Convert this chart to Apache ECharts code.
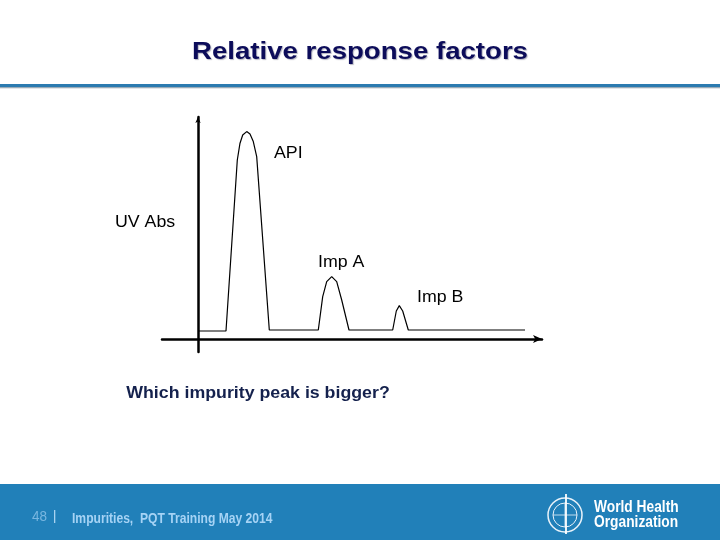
<!DOCTYPE html>
<html><head><meta charset="utf-8">
<script src="https://cdn.jsdelivr.net/npm/echarts@6/dist/echarts.min.js"></script>
<style>html,body{margin:0;padding:0;background:#fff}#c{width:720px;height:540px}</style>
</head><body><div id="c"></div>
<script>
// chromatogram trace: retention time (x) and UV absorbance (y)
var traceTime = [0, 2.8, 3.93, 4.2, 4.47, 4.87, 5.2, 5.53, 5.87, 7.13, 12.03, 12.47, 12.87, 13.37, 13.87, 14.37, 15.1, 19.47, 19.83, 20.13, 20.47, 21.03, 32.7];
var traceAbs  = [4, 4, 89.5, 97.9, 102, 103.7, 102.5, 98.7, 91.2, 4.5, 4.5, 21.2, 28.7, 31.2, 28.7, 19.5, 4.5, 4.5, 14, 16.7, 14, 4.5, 4.5];
var peakNames = ['API', 'Imp A', 'Imp B'];
var yAxisName = 'UV Abs';
var titleText = 'Relative response factors';
var questionText = 'Which impurity peak is bigger?';
var footerPage = '48';
var footerText = 'Impurities,  PQT Training May 2014';
var orgLines = ['World Health', 'Organization'];

var data = traceTime.map(function (t, i) { return [t, traceAbs[i]]; });
var chart = echarts.init(document.getElementById('c'), null, {renderer: 'canvas'});
var navy = '#0c0c5a';
var F = '"Liberation Sans", Arial, sans-serif';
function lbl(text, x, y) {
  return {type: 'text', x: x, y: y, scaleX: 1.11, style: {text: text, font: '16px ' + F, fill: '#000', textVerticalAlign: 'middle'}};
}
chart.setOption({
  animation: false,
  backgroundColor: '#fff',
  grid: {left: 162, right: 178, top: 117, bottom: 188, containLabel: false},
  xAxis: {
    type: 'value', min: -3.6, max: 34.4,
    axisLine: {onZero: true, symbol: ['none', 'arrow'], symbolSize: [6, 9], lineStyle: {color: '#000', width: 2.5}},
    axisTick: {show: false}, axisLabel: {show: false}, splitLine: {show: false}
  },
  yAxis: {
    type: 'value', min: -6.5, max: 111,
    axisLine: {show: true, onZero: true, symbol: ['none', 'arrow'], symbolSize: [4, 6], lineStyle: {color: '#000', width: 2.5}},
    axisTick: {show: false}, axisLabel: {show: false}, splitLine: {show: false}
  },
  series: [{
    type: 'line', data: data, showSymbol: false, smooth: false,
    lineStyle: {color: '#000', width: 1.2}
  }],
  graphic: [
    {type: 'text', x: 360, y: 52, scaleX: 1.15, style: {text: titleText, font: 'bold 24px ' + F, fill: navy, textAlign: 'center', textVerticalAlign: 'middle', textShadowColor: 'rgba(120,120,140,0.55)', textShadowOffsetX: 1, textShadowOffsetY: 1, textShadowBlur: 1}},
    {type: 'rect', shape: {x: 0, y: 84, width: 720, height: 3.3}, style: {fill: '#2b7bb0'}},
    {type: 'rect', shape: {x: 0, y: 87.3, width: 720, height: 1}, style: {fill: '#8a9aa6'}},
    lbl(peakNames[0], 274, 153.5),
    lbl(yAxisName, 115, 222.5),
    lbl(peakNames[1], 318, 262.5),
    lbl(peakNames[2], 417, 297.5),
    {type: 'text', x: 258, y: 393.5, scaleX: 1.11, style: {text: questionText, font: 'bold 16px ' + F, fill: '#14214d', textAlign: 'center', textVerticalAlign: 'middle'}},
    {type: 'rect', shape: {x: 0, y: 484, width: 720, height: 56}, style: {fill: '#2180b9'}},
    {type: 'text', x: 32, y: 517, scaleX: 0.9, style: {text: footerPage, font: '15px ' + F, fill: '#79b6e0', textVerticalAlign: 'middle'}},
    {type: 'rect', shape: {x: 54, y: 510, width: 1.3, height: 13}, style: {fill: '#a8d2f0'}},
    {type: 'text', x: 72, y: 519, scaleX: 0.865, style: {text: footerText, font: 'bold 14px ' + F, fill: '#a6d3f5', textVerticalAlign: 'middle'}},
    // WHO emblem approximation
    {type: 'circle', shape: {cx: 565, cy: 515, r: 17}, style: {fill: 'none', stroke: '#e8f2fa', lineWidth: 1.5}},
    {type: 'circle', shape: {cx: 565, cy: 515, r: 12}, style: {fill: 'none', stroke: '#e8f2fa', lineWidth: 1}},
    {type: 'line', shape: {x1: 553, y1: 515, x2: 577, y2: 515}, style: {stroke: '#e8f2fa', lineWidth: 0.8}},
    {type: 'line', shape: {x1: 565, y1: 503, x2: 565, y2: 527}, style: {stroke: '#e8f2fa', lineWidth: 0.8}},
    {type: 'line', shape: {x1: 566, y1: 494, x2: 566, y2: 534}, style: {stroke: '#ffffff', lineWidth: 1.8}},
    {type: 'text', x: 594, y: 507.5, scaleX: 0.81, style: {text: orgLines[0], font: 'bold 17px ' + F, fill: '#ffffff', textVerticalAlign: 'middle'}},
    {type: 'text', x: 594, y: 522, scaleX: 0.81, style: {text: orgLines[1], font: 'bold 17px ' + F, fill: '#ffffff', textVerticalAlign: 'middle'}}
  ]
});
</script></body></html>
